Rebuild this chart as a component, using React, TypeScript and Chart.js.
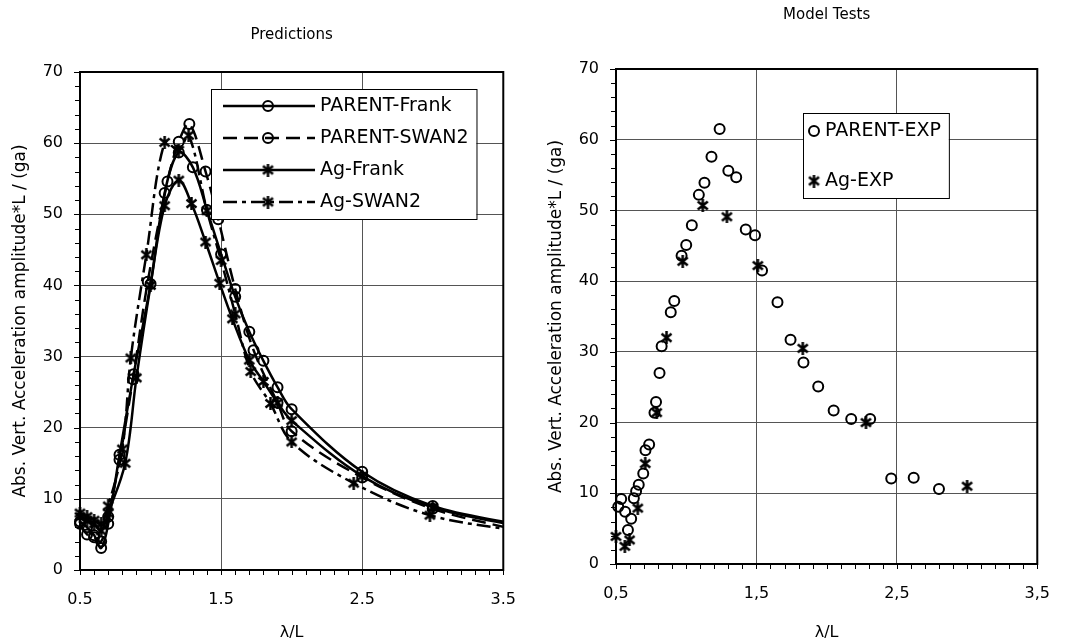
import React, { useEffect, useRef } from "react";
import { Chart, registerables } from "chart.js";
Chart.register(...registerables);

const FONT = "'DejaVu Sans', sans-serif";

// ---- axis ticks ----
const xTickValues = [0.5, 1.5, 2.5, 3.5];
const xTickLabelsLeft = ["0.5", "1.5", "2.5", "3.5"];
const xTickLabelsRight = ["0,5", "1,5", "2,5", "3,5"];
const yTickValues = [0, 10, 20, 30, 40, 50, 60, 70];

// ---- Predictions (left) ----
const parentFrankX = [0.5, 0.55, 0.6, 0.65, 0.7, 0.78, 0.88, 1.0, 1.1, 1.2, 1.3, 1.4, 1.5, 1.6, 1.7, 1.8, 1.9, 2.0, 2.5, 3.0, 3.6];
const parentFrankY = [6.8, 6.0, 4.9, 3.1, 6.5, 16.2, 27.5, 40.2, 53.0, 58.7, 56.6, 50.6, 44.4, 38.4, 33.5, 29.4, 25.7, 22.6, 13.8, 9.0, 6.4];

const parentSwanX = [0.5, 0.55, 0.6, 0.65, 0.7, 0.78, 0.875, 0.98, 1.12, 1.2, 1.275, 1.39, 1.48, 1.6, 1.73, 1.9, 2.0, 2.5, 3.0, 3.6];
const parentSwanY = [6.5, 5.0, 4.6, 4.0, 7.5, 15.5, 26.8, 40.5, 54.6, 60.2, 62.7, 56.0, 49.3, 39.5, 30.9, 23.5, 19.5, 13.0, 8.6, 5.6];

const agFrankX = [0.5, 0.55, 0.6, 0.65, 0.7, 0.82, 0.9, 1.0, 1.1, 1.2, 1.29, 1.39, 1.49, 1.58, 1.7, 1.8, 1.9, 2.0, 2.5, 3.0, 3.6];
const agFrankY = [7.5, 7.0, 6.5, 5.5, 8.0, 15.0, 27.0, 40.0, 51.2, 54.8, 51.5, 46.1, 40.3, 35.3, 29.5, 26.5, 23.5, 21.0, 13.2, 8.8, 6.2];

const agSwanX = [0.5, 0.55, 0.6, 0.65, 0.7, 0.8, 0.86, 0.97, 1.1, 1.2, 1.27, 1.4, 1.5, 1.6, 1.71, 1.85, 2.0, 2.44, 2.98, 3.6];
const agSwanY = [8.0, 7.5, 7.0, 6.5, 9.0, 17.0, 29.8, 44.3, 60.1, 59.0, 61.1, 50.5, 43.5, 36.0, 27.9, 23.4, 18.0, 12.2, 7.7, 5.5];

const leftLabels = ["PARENT-Frank", "PARENT-SWAN2", "Ag-Frank", "Ag-SWAN2"];

// ---- Model Tests (right) ----
const parentExpX = [0.516, 0.537, 0.565, 0.585, 0.608, 0.627, 0.643, 0.662, 0.694, 0.71, 0.736, 0.774, 0.785, 0.81, 0.825, 0.89, 0.915, 0.967, 1.0, 1.04, 1.09, 1.13, 1.18, 1.238, 1.3, 1.356, 1.424, 1.49, 1.54, 1.65, 1.743, 1.835, 1.94, 2.05, 2.175, 2.31, 2.46, 2.62, 2.8];
const parentExpY = [8.1, 9.2, 7.4, 4.8, 6.4, 9.3, 10.3, 11.2, 12.8, 16.1, 16.9, 21.4, 22.9, 27.0, 30.8, 35.6, 37.2, 43.6, 45.1, 47.9, 52.2, 53.9, 57.6, 61.5, 55.6, 54.7, 47.3, 46.5, 41.5, 37.0, 31.7, 28.5, 25.1, 21.7, 20.5, 20.5, 12.1, 12.2, 10.6];

const agExpX = [0.5, 0.563, 0.597, 0.655, 0.708, 0.79, 0.86, 0.975, 1.118, 1.29, 1.51, 1.83, 2.28, 3.0];
const agExpY = [3.9, 2.5, 3.4, 7.9, 14.2, 21.4, 32.0, 42.8, 50.7, 49.1, 42.2, 30.5, 20.0, 11.0];

const rightLabels = ["PARENT-EXP", "Ag-EXP"];

const yTitle = "Abs. Vert. Acceleration amplitude*L / (ga)";

function pts(xs: number[], ys: number[]) {
  return xs.map((x, i) => ({ x, y: ys[i] }));
}

function makeAsterisk(size: number, lw: number): HTMLCanvasElement {
  const c = document.createElement("canvas");
  c.width = size;
  c.height = size;
  const g = c.getContext("2d")!;
  g.strokeStyle = "#000";
  g.lineWidth = lw;
  const m = 1.5;
  g.beginPath();
  g.moveTo(m, m + 1);
  g.lineTo(size - m, size - m - 1);
  g.moveTo(size - m, m + 1);
  g.lineTo(m, size - m - 1);
  g.moveTo(size / 2, 0);
  g.lineTo(size / 2, size);
  g.stroke();
  return c;
}

type LegendItem = { label: string; line: boolean; dash: number[]; marker: "circle" | "star" };

function makeDecor(opts: {
  title: string;
  titleY: number;
  legend: { x: number; y: number; rowGap: number; firstRow: number; lineX0: number; lineX1: number; markerX: number; textX: number; bottomPad: number; items: LegendItem[] };
  star: HTMLCanvasElement;
}) {
  return {
    id: "decor",
    afterDraw(chart: any) {
      const { ctx, chartArea: a } = chart;
      const x = chart.scales.x;
      const y = chart.scales.y;
      ctx.save();
      // frame
      ctx.strokeStyle = "#000";
      ctx.lineWidth = 2;
      ctx.strokeRect(a.left, a.top, a.right - a.left, a.bottom - a.top);
      // minor ticks
      ctx.lineWidth = 1;
      ctx.beginPath();
      for (let i = 0; i <= 30; i++) {
        const px = Math.round(x.getPixelForValue(0.5 + i * 0.1)) + 0.5;
        ctx.moveTo(px, a.bottom);
        ctx.lineTo(px, a.bottom + 5);
      }
      for (let i = 0; i <= 35; i++) {
        const py = Math.round(y.getPixelForValue(i * 2)) + 0.5;
        const len = i % 5 === 0 ? 6 : 5;
        ctx.moveTo(a.left - len, py);
        ctx.lineTo(a.left, py);
      }
      ctx.stroke();
      // title
      ctx.fillStyle = "#000";
      ctx.font = `15px ${FONT}`;
      ctx.textAlign = "center";
      ctx.textBaseline = "middle";
      ctx.fillText(opts.title, (a.left + a.right) / 2, opts.titleY);
      // legend
      const L = opts.legend;
      ctx.font = `19px ${FONT}`;
      let maxW = 0;
      L.items.forEach((it) => (maxW = Math.max(maxW, ctx.measureText(it.label).width)));
      const w = L.textX + maxW + 8 - L.x;
      const h = L.firstRow - L.y + L.rowGap * (L.items.length - 1) + L.bottomPad;
      ctx.fillStyle = "#fff";
      ctx.fillRect(L.x, L.y, w, h);
      ctx.strokeStyle = "#000";
      ctx.lineWidth = 1;
      ctx.strokeRect(L.x + 0.5, L.y + 0.5, w, h);
      L.items.forEach((it, i) => {
        const ry = L.firstRow + i * L.rowGap;
        if (it.line) {
          ctx.setLineDash(it.dash);
          ctx.lineWidth = 2.5;
          ctx.beginPath();
          ctx.moveTo(L.lineX0, ry);
          ctx.lineTo(L.lineX1, ry);
          ctx.stroke();
          ctx.setLineDash([]);
        }
        if (it.marker === "circle") {
          ctx.lineWidth = 2;
          ctx.beginPath();
          ctx.arc(L.markerX, ry, 5, 0, Math.PI * 2);
          ctx.stroke();
        } else {
          ctx.drawImage(opts.star, L.markerX - opts.star.width / 2, ry - opts.star.height / 2);
        }
        ctx.fillStyle = "#000";
        ctx.textAlign = "left";
        ctx.textBaseline = "middle";
        ctx.fillText(it.label, L.textX, ry);
      });
      ctx.restore();
    },
  };
}

function scalesFor(tickLabels: string[], xHeight: number) {
  return {
    x: {
      type: "linear",
      min: 0.5,
      max: 3.5,
      afterBuildTicks: (s: any) => {
        s.ticks = xTickValues.map((v) => ({ value: v }));
      },
      afterFit: (s: any) => {
        s.height = xHeight;
      },
      grid: { color: "#555", lineWidth: 1, drawTicks: false },
      border: { display: false },
      ticks: {
        padding: 20,
        color: "#000",
        font: { family: FONT, size: 16 },
        callback: (v: number) => tickLabels[xTickValues.indexOf(v)] ?? "",
      },
      title: {
        display: true,
        text: "λ/L",
        color: "#000",
        font: { family: FONT, size: 16 },
        padding: { top: 0, bottom: 1 },
      },
    },
    y: {
      type: "linear",
      min: 0,
      max: 70,
      afterBuildTicks: (s: any) => {
        s.ticks = yTickValues.map((v) => ({ value: v }));
      },
      afterFit: (s: any) => {
        s.width = 80;
      },
      grid: { color: "#555", lineWidth: 1, drawTicks: false },
      border: { display: false },
      ticks: { padding: 17, color: "#000", font: { family: FONT, size: 16 } },
      title: {
        display: true,
        text: yTitle,
        color: "#000",
        font: { family: FONT, size: 17 },
        padding: { top: 10, bottom: 0 },
      },
    },
  };
}

export default function App() {
  const leftRef = useRef<HTMLCanvasElement | null>(null);
  const rightRef = useRef<HTMLCanvasElement | null>(null);

  useEffect(() => {
    const star = makeAsterisk(13, 2.5);
    const clip = { left: 10, top: 10, right: 0, bottom: 0 };
    const lineDs = (label: string, xs: number[], ys: number[], dash: number[], marker: "circle" | "star") => ({
      label,
      data: pts(xs, ys),
      showLine: true,
      tension: 0.35,
      borderColor: "#000",
      borderWidth: 2.5,
      borderDash: dash,
      pointStyle: marker === "circle" ? "circle" : star,
      pointRadius: 5,
      pointBorderWidth: 2,
      pointBorderColor: "#000",
      pointBackgroundColor: "rgba(0,0,0,0)",
      clip,
    });

    const left = new Chart(leftRef.current!, {
      type: "scatter",
      data: {
        datasets: [
          lineDs(leftLabels[0], parentFrankX, parentFrankY, [], "circle"),
          lineDs(leftLabels[1], parentSwanX, parentSwanY, [14, 7], "circle"),
          lineDs(leftLabels[2], agFrankX, agFrankY, [], "star"),
          lineDs(leftLabels[3], agSwanX, agSwanY, [14, 5, 4, 5], "star"),
        ] as any,
      },
      options: {
        responsive: false,
        animation: false,
        devicePixelRatio: 1,
        layout: { padding: { left: 0, top: 72, right: 30, bottom: 0 } },
        plugins: { legend: { display: false }, tooltip: { enabled: false }, title: { display: false } },
        scales: scalesFor(xTickLabelsLeft, 73) as any,
      },
      plugins: [
        makeDecor({
          title: "Predictions",
          titleY: 35,
          star,
          legend: {
            x: 211,
            y: 89,
            firstRow: 106,
            rowGap: 32,
            bottomPad: 17,
            lineX0: 223,
            lineX1: 315,
            markerX: 268,
            textX: 320,
            items: [
              { label: leftLabels[0], line: true, dash: [], marker: "circle" },
              { label: leftLabels[1], line: true, dash: [14, 7], marker: "circle" },
              { label: leftLabels[2], line: true, dash: [], marker: "star" },
              { label: leftLabels[3], line: true, dash: [14, 5, 4, 5], marker: "star" },
            ],
          },
        }),
      ],
    });

    const scatterDs = (label: string, xs: number[], ys: number[], marker: "circle" | "star") => ({
      label,
      data: pts(xs, ys),
      showLine: false,
      pointStyle: marker === "circle" ? "circle" : star,
      pointRadius: 5,
      pointBorderWidth: 2,
      pointBorderColor: "#000",
      pointBackgroundColor: "rgba(0,0,0,0)",
      clip,
    });

    const right = new Chart(rightRef.current!, {
      type: "scatter",
      data: {
        datasets: [
          scatterDs(rightLabels[0], parentExpX, parentExpY, "circle"),
          scatterDs(rightLabels[1], agExpX, agExpY, "star"),
        ] as any,
      },
      options: {
        responsive: false,
        animation: false,
        devicePixelRatio: 1,
        layout: { padding: { left: 0, top: 69, right: 22, bottom: 0 } },
        plugins: { legend: { display: false }, tooltip: { enabled: false }, title: { display: false } },
        scales: scalesFor(xTickLabelsRight, 79) as any,
      },
      plugins: [
        makeDecor({
          title: "Model Tests",
          titleY: 15,
          star,
          legend: {
            x: 803 - 536,
            y: 113,
            firstRow: 131,
            rowGap: 50,
            bottomPad: 17,
            lineX0: 0,
            lineX1: 0,
            markerX: 814 - 536,
            textX: 825 - 536,
            items: [
              { label: rightLabels[0], line: false, dash: [], marker: "circle" },
              { label: rightLabels[1], line: false, dash: [], marker: "star" },
            ],
          },
        }),
      ],
    });

    return () => {
      left.destroy();
      right.destroy();
    };
  }, []);

  return (
    <div style={{ position: "absolute", left: 0, top: 0, width: 1070, height: 643, background: "#fff", overflow: "hidden" }}>
      <canvas ref={leftRef} width={536} height={643} style={{ position: "absolute", left: 0, top: 0, width: 536, height: 643 }} />
      <canvas ref={rightRef} width={534} height={643} style={{ position: "absolute", left: 536, top: 0, width: 534, height: 643 }} />
    </div>
  );
}
